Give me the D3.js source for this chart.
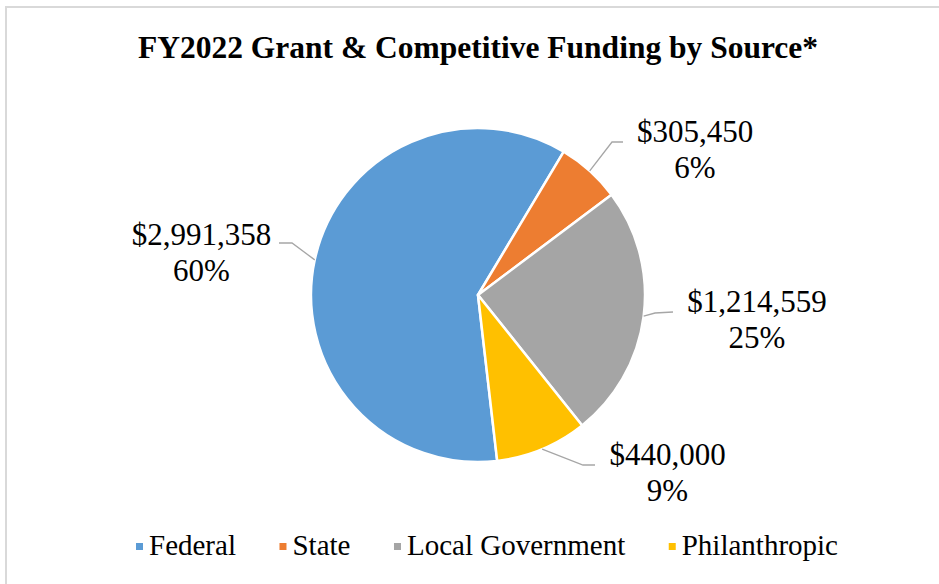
<!DOCTYPE html>
<html>
<head>
<meta charset="utf-8">
<script src="https://cdn.jsdelivr.net/npm/d3@7"></script>
<style>
  html, body { margin: 0; padding: 0; background: #fff; }
  svg { display: block; }
</style>
</head>
<body>
<svg id="chart" width="939" height="584"></svg>
<script>
// ---- data ----
const categories = ["Federal", "State", "Local Government", "Philanthropic"];
const amounts = [2991358, 305450, 1214559, 440000];
const valueLabels = ["$2,991,358", "$305,450", "$1,214,559", "$440,000"];
const percentLabels = ["60%", "6%", "25%", "9%"];
const colors = ["#5B9BD5", "#ED7D31", "#A5A5A5", "#FFC000"];
const title = "FY2022 Grant & Competitive Funding by Source*";

// ---- layout ----
const cx = 478, cy = 295, R = 167;
const startDeg = 173.4;
const serif = "'Times New Roman', 'Liberation Serif', serif";
// label placement relative to pie centre: text centre/baseline, leader elbow, leader end
const labelLayout = [
  { tx: -276.5, ty: -50, ex: -186, ey: -52, lx: -199, ly: -52 },
  { tx: 217,    ty: -153, ex: 134, ey: -153, lx: 145, ly: -153 },
  { tx: 279,    ty: 17,  ex: 177, ey: 18,  lx: 195, ly: 17 },
  { tx: 189.5,  ty: 170, ex: 105, ey: 170, lx: 117, ly: 170 }
];

const svg = d3.select("#chart");

// outer chart border (only top/left visible in the crop)
svg.append("rect")
  .attr("x", 6).attr("y", 7)
  .attr("width", 1000).attr("height", 1000)
  .attr("fill", "none")
  .attr("stroke", "#d9d9d9")
  .attr("stroke-width", 2);

// title
svg.append("text")
  .attr("x", 478).attr("y", 58)
  .attr("text-anchor", "middle")
  .attr("font-family", serif)
  .attr("font-weight", "bold")
  .attr("font-size", 31.5)
  .attr("fill", "#000")
  .text(title);

const data = categories.map((c, i) => ({ cat: c, value: amounts[i], i }));

const color = d3.scaleOrdinal().domain(categories).range(colors);

const pie = d3.pie()
  .value(d => d.value)
  .sort(null)
  .startAngle(startDeg * Math.PI / 180)
  .endAngle((startDeg + 360) * Math.PI / 180);

const arcs = pie(data);
const arc = d3.arc().innerRadius(0).outerRadius(R);
const edgeArc = d3.arc().innerRadius(R).outerRadius(R);

const g = svg.append("g").attr("transform", `translate(${cx},${cy})`);

g.selectAll("path.slice")
  .data(arcs)
  .join("path")
  .attr("class", "slice")
  .attr("d", arc)
  .attr("fill", d => color(d.data.cat))
  .attr("stroke", "#fff")
  .attr("stroke-width", 2.5)
  .attr("stroke-linejoin", "round");

// leader lines
g.selectAll("polyline.leader")
  .data(arcs)
  .join("polyline")
  .attr("class", "leader")
  .attr("fill", "none")
  .attr("stroke", "#a6a6a6")
  .attr("stroke-width", 1.3)
  .attr("points", d => {
    const p = edgeArc.centroid(d);
    const L = labelLayout[d.data.i];
    return [p, [L.ex, L.ey], [L.lx, L.ly]].map(q => q.join(",")).join(" ");
  });

// labels
const lbl = g.selectAll("text.lbl")
  .data(arcs)
  .join("text")
  .attr("class", "lbl")
  .attr("text-anchor", "middle")
  .attr("font-family", serif)
  .attr("font-size", 31)
  .attr("fill", "#000");
lbl.append("tspan")
  .attr("x", d => labelLayout[d.data.i].tx)
  .attr("y", d => labelLayout[d.data.i].ty)
  .text(d => valueLabels[d.data.i]);
lbl.append("tspan")
  .attr("x", d => labelLayout[d.data.i].tx)
  .attr("y", d => labelLayout[d.data.i].ty + 36)
  .text(d => percentLabels[d.data.i]);

// legend
const legendY = 555, markerSize = 7, markerGap = 6, legendStart = 136, legendEnd = 838;
const items = svg.append("g").selectAll("g.item")
  .data(categories)
  .join("g")
  .attr("class", "item");
items.append("rect")
  .attr("width", markerSize).attr("height", markerSize)
  .attr("y", legendY - 12)
  .attr("fill", d => color(d));
items.append("text")
  .attr("x", markerSize + markerGap)
  .attr("y", legendY)
  .attr("font-family", serif)
  .attr("font-size", 29)
  .attr("fill", "#000")
  .text(d => d);
const widths = [];
items.each(function() {
  widths.push(markerSize + markerGap + d3.select(this).select("text").node().getComputedTextLength());
});
const itemGap = (legendEnd - legendStart - d3.sum(widths)) / (categories.length - 1);
let xPos = legendStart;
items.attr("transform", (d, i) => {
  const x = xPos;
  xPos += widths[i] + itemGap;
  return `translate(${x},0)`;
});
</script>
</body>
</html>
